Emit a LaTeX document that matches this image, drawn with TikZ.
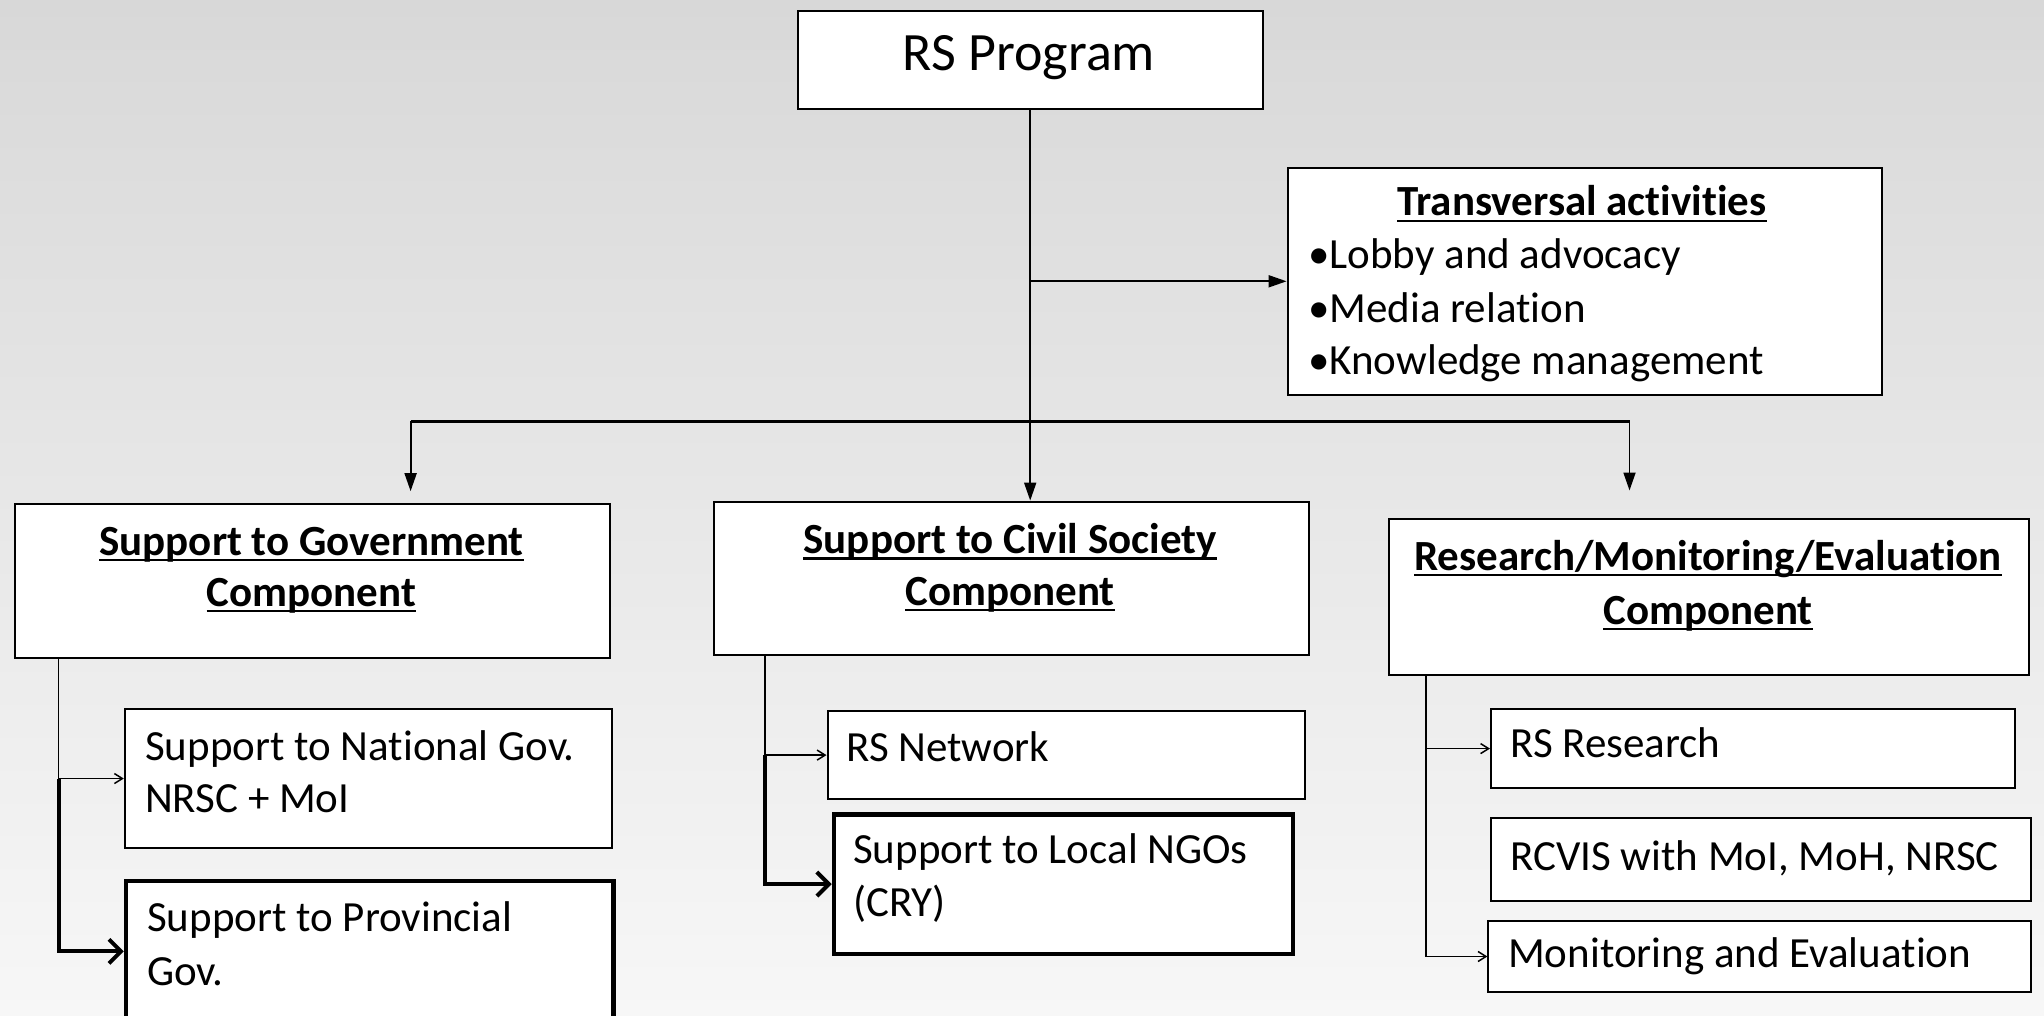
\documentclass[tikz,border=0pt]{standalone}
\usepackage{fontspec}
\setmainfont{Carlito}[Ligatures={NoCommon}]
\usetikzlibrary{arrows.meta}
\definecolor{bgtop}{RGB}{216,216,216}
\definecolor{bgbot}{RGB}{247,247,247}
\begin{document}
\begin{tikzpicture}[x=1pt,y=-1pt,
  box/.style={draw=black, fill=white, line width=2pt, inner sep=0pt, anchor=north west},
  thickbox/.style={box, line width=4.5pt},
  txt/.style={inner sep=0pt, font=\fontsize{43}{51}\selectfont, anchor=base west},
  ttl/.style={inner sep=0pt, font=\fontsize{43}{51}\selectfont\bfseries, anchor=base},
  uline/.style={line width=2.5pt},
  main/.style={line width=1.8pt},
  tri/.style={-{Triangle[length=18pt,width=12pt]}},
  barline/.style={line width=3pt},
  sub/.style={line width=1.5pt, -{Straight Barb[length=8pt,width=10pt]}},
  thk/.style={line width=4pt, -{Straight Barb[length=12pt,width=24pt]}}
]
\useasboundingbox (0,0) rectangle (2044,1016);
\clip (0,0) rectangle (2044,1016);
\shade[top color=bgtop, bottom color=bgbot] (0,0) rectangle (2044,1016);

% top
\node[box, minimum width=465.4pt, minimum height=97.8pt] (prog) at (796.5,10.4) {};
\node[inner sep=0pt, anchor=base, font=\fontsize{54}{60}\selectfont] (progt) at (1029,71) {RS Program};

\node[box, minimum width=594.5pt, minimum height=226.8pt] (trans) at (1286.6,166.9) {};
\node[ttl] (transt) at (1582,216) {Transversal activities};
\draw[uline] ([yshift=-5pt]transt.base west) -- ([yshift=-5pt]transt.base east);
\node[txt] (b1) at (1308,269) {•Lobby and advocacy};
\node[txt] (b2) at (1308,322) {•Media relation};
\node[txt] (b3) at (1308,374) {•Knowledge management};

% components
\node[box, minimum width=594.5pt, minimum height=153.8pt] (gov) at (14.3,503.2) {};
\node[ttl] (gov1) at (311.5,555) {Support to Government};
\node[ttl] (gov2) at (311.5,606) {Component};
\draw[uline] ([yshift=-5pt]gov1.base west) -- ([yshift=-5pt]gov1.base east);
\draw[uline] ([yshift=-5pt]gov2.base west) -- ([yshift=-5pt]gov2.base east);

\node[box, minimum width=594.5pt, minimum height=153.8pt] (civ) at (713,500.6) {};
\node[ttl] (civ1) at (1010,553.5) {Support to Civil Society};
\node[ttl] (civ2) at (1010,605) {Component};
\draw[uline] ([yshift=-5pt]civ1.base west) -- ([yshift=-5pt]civ1.base east);
\draw[uline] ([yshift=-5pt]civ2.base west) -- ([yshift=-5pt]civ2.base east);

\node[box, minimum width=640.1pt, minimum height=156.5pt] (res) at (1388.3,517.5) {};
\node[ttl] (res1) at (1708,570) {Research/Monitoring/Evaluation};
\node[ttl] (res2) at (1708,624) {Component};
\draw[uline] ([yshift=-5pt]res1.base west) -- ([yshift=-5pt]res1.base east);
\draw[uline] ([yshift=-5pt]res2.base west) -- ([yshift=-5pt]res2.base east);

% sub boxes
\node[box, minimum width=487.6pt, minimum height=139.5pt] (nat) at (123.8,707.8) {};
\node[txt] (nat1) at (145,760) {Support to National Gov.};
\node[txt] (nat2) at (145,812) {NRSC + MoI};
\node[thickbox, minimum width=487.6pt, minimum height=141pt] (prov) at (123.8,878.6) {};
\node[txt] (prov1) at (147,931) {Support to Provincial};
\node[txt] (prov2) at (147,985) {Gov.};

\node[box, minimum width=477.1pt, minimum height=87.4pt] (net) at (826.5,710.4) {};
\node[txt] (nett) at (846,761) {RS Network};
\node[thickbox, minimum width=458.8pt, minimum height=139.5pt] (ngo) at (831.7,812.1) {};
\node[txt] (ngo1) at (853,863) {Support to Local NGOs};
\node[txt] (ngo2) at (853,916) {(CRY)};

\node[box, minimum width=524pt, minimum height=79.6pt] (rr) at (1490,707.8) {};
\node[txt] (rrt) at (1510,757) {RS Research};
\node[box, minimum width=539.7pt, minimum height=82.2pt] (rc) at (1490,817.3) {};
\node[txt] (rct) at (1510,870) {RCVIS with MoI, MoH, NRSC};
\node[box, minimum width=542.3pt, minimum height=70.4pt] (me) at (1487.4,920.3) {};
\node[txt] (met) at (1508,967) {Monitoring and Evaluation};

% connectors from top
\draw[main,tri] (prog.south) -- (prog.south |- civ.north);
\draw[main,tri] (prog.south |- trans.west) -- (trans.west);
\coordinate (bl) at (410.6,421);
\coordinate (br) at (1629.5,421);
\draw[barline] (bl) -- (br);
\draw[main,tri,shorten >=12pt] (bl) -- (bl |- gov.north);
\draw[main,tri,shorten >=27pt] (br) -- (br |- res.north);

% sub connectors
\coordinate (gv) at ([xshift=44.4pt]gov.south west);
\coordinate (cv) at ([xshift=52.2pt]civ.south west);
\coordinate (rv) at ([xshift=37.8pt]res.south west);
\draw[sub] (gv) |- (nat.west);
\draw[thk] (gv |- nat.west) |- (prov.west);
\draw[sub] (cv) |- (net.west);
\draw[thk] (cv |- net.west) |- (ngo.west);
\draw[sub] (rv) |- (rr.west);
\draw[sub] (rv) |- (me.west);
\end{tikzpicture}
\end{document}
